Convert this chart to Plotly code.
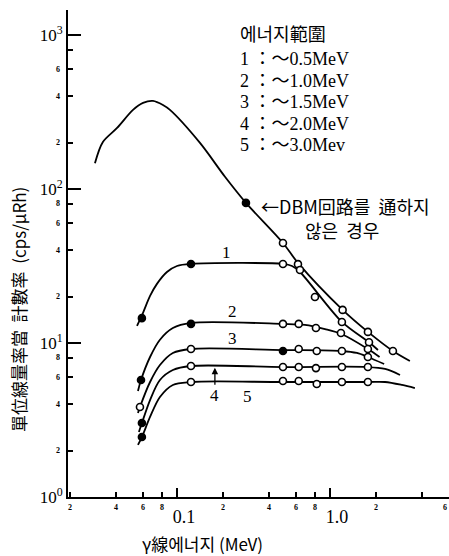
import numpy as np
import plotly.graph_objects as go

# ---------------- data ----------------
# gamma-ray energy (MeV) vs. count rate per unit exposure rate (cps / uR·h)
nodbm_line_E = [0.0291, 0.0328, 0.0406, 0.0516, 0.060, 0.0697, 0.081, 0.090, 0.1414, 0.206, 0.2825, 0.493, 0.618, 1.21, 1.771, 2.58, 3.33]
nodbm_line_R = [147, 202, 249, 326, 362, 373, 351, 326, 199, 120, 81.2, 44.6, 33.1, 16.4, 11.8, 8.87, 7.64]
nodbm_pts_E = [0.2825, 0.493, 0.618, 1.21, 1.771, 2.58]
nodbm_pts_R = [81.2, 44.6, 32.5, 16.4, 11.8, 8.87]

c1_line_E = [0.0548, 0.060, 0.0667, 0.074, 0.086, 0.10, 0.1235, 0.493, 0.565, 0.637, 1.197, 1.80, 2.06]
c1_line_R = [12.9, 15.7, 20.2, 24.2, 28.9, 31.6, 32.6, 32.6, 31.6, 28.9, 13.7, 10.1, 9.0]
c1_pts_E = [0.059, 0.1235, 0.493, 0.637, 0.798, 1.197, 1.80]
c1_pts_R = [14.5, 32.6, 32.6, 29.8, 19.9, 13.7, 10.1]

c2_line_E = [0.0556, 0.0582, 0.0667, 0.0774, 0.094, 0.1235, 0.493, 0.686, 0.928, 1.197, 1.77, 2.11]
c2_line_R = [4.88, 5.75, 8.11, 10.5, 12.5, 13.5, 13.3, 13.1, 12.3, 11.4, 9.14, 8.11]
c2_pts_E = [0.0582, 0.1235, 0.493, 0.625, 0.81, 1.18, 1.77]
c2_pts_R = [5.75, 13.3, 13.3, 13.3, 12.5, 11.6, 9.14]

c3_line_E = [0.0556, 0.0573, 0.0667, 0.0774, 0.094, 0.1235, 0.493, 1.197, 1.5, 1.77, 2.26]
c3_line_R = [3.51, 3.84, 5.58, 7.19, 8.61, 9.14, 9.0, 8.87, 8.61, 8.11, 7.3]
c3_pts_E = [0.0573, 0.1235, 0.493, 0.625, 0.82, 1.197, 1.77]
c3_pts_R = [3.84, 9.14, 8.87, 9.14, 8.87, 8.87, 8.11]

c4_line_E = [0.0564, 0.059, 0.0667, 0.0774, 0.094, 0.1235, 0.493, 1.77, 2.29, 2.87]
c4_line_R = [2.64, 3.02, 4.26, 5.75, 6.68, 7.09, 6.98, 6.98, 6.78, 6.2]
c4_pts_E = [0.059, 0.1235, 0.493, 0.625, 0.81, 1.197, 1.77]
c4_pts_R = [3.02, 7.09, 6.98, 6.98, 6.87, 6.98, 6.98]

c5_line_E = [0.0556, 0.059, 0.0667, 0.0774, 0.094, 0.1235, 0.493, 1.77, 2.29, 2.96, 3.59]
c5_line_R = [2.18, 2.45, 3.31, 4.46, 5.34, 5.58, 5.58, 5.58, 5.58, 5.34, 5.1]
c5_pts_E = [0.059, 0.1235, 0.493, 0.625, 0.82, 1.197, 1.77]
c5_pts_R = [2.45, 5.58, 5.67, 5.67, 5.42, 5.58, 5.58]

curve_names = ["1", "2", "3", "4", "5"]

# axis ticks
x_major_vals = [0.1, 1.0]
x_major_labels = ["0.1", "1.0"]
x_minor_vals = [0.02, 0.04, 0.06, 0.08, 0.2, 0.4, 0.6, 0.8, 2, 4, 6]
x_minor_labels = ["2", "4", "6", "8", "2", "4", "6", "8", "2", "", "6"]
y_major_vals = [1, 10, 100, 1000]
y_major_labels = ["10<sup>0</sup>", "10<sup>1</sup>", "10<sup>2</sup>", "10<sup>3</sup>"]
y_minor_vals = [2, 4, 6, 8, 20, 40, 60, 80, 200, 400, 600, 800]
y_minor_labels = ["2", "4", "6", "8", "2", "4", "6", "8", "2", "4", "6", ""]

legend_title = "에너지範圍"
legend_lines = ["1 ：～0.5MeV", "2 ：～1.0MeV", "3 ：～1.5MeV", "4 ：～2.0MeV", "5 ：～3.0Mev"]
dbm_text_1 = "←DBM回路를  通하지"
dbm_text_2 = "않은  경우"
x_title = "γ線에너지 (MeV)"
y_title = "單位線量率當  計數率  (cps/μRh)"

# ---------------- styling / layout ----------------
W, H = 449, 556
ML, MR, MT, MB = 68, 0, 10, 59
SERIF = "Liberation Serif, Noto Sans CJK KR, serif"
CJK = "Noto Sans CJK KR, sans-serif"


def pxx(x):
    return (x - ML) / (W - ML - MR)


def pxy(y):
    return (H - MB - y) / (H - MT - MB)


fig = go.Figure()


def add_curve(lE, lR, pE, pR, filled):
    fig.add_trace(go.Scatter(
        x=lE, y=lR, mode="lines",
        line=dict(color="black", width=1.8, shape="spline", smoothing=0.9),
        hoverinfo="skip", showlegend=False))
    fig.add_trace(go.Scatter(
        x=pE, y=pR, mode="markers",
        marker=dict(symbol="circle", size=7,
                    color=["black" if i in filled else "white" for i in range(len(pE))],
                    line=dict(color="black", width=1.6)),
        showlegend=False))


add_curve(nodbm_line_E, nodbm_line_R, nodbm_pts_E, nodbm_pts_R, {0})
add_curve(c1_line_E, c1_line_R, c1_pts_E, c1_pts_R, {0, 1})
add_curve(c2_line_E, c2_line_R, c2_pts_E, c2_pts_R, {0, 1})
add_curve(c3_line_E, c3_line_R, c3_pts_E, c3_pts_R, {2})
add_curve(c4_line_E, c4_line_R, c4_pts_E, c4_pts_R, {0})
add_curve(c5_line_E, c5_line_R, c5_pts_E, c5_pts_R, {0})


def ann(x, y, text, font, xanchor="center", yanchor="middle", xref="paper", yref="paper", **kw):
    d = dict(x=x, y=y, xref=xref, yref=yref, text=text, showarrow=False,
             xanchor=xanchor, yanchor=yanchor, font=font)
    d.update(kw)
    return d


SMALL = dict(family=SERIF, size=8, color="black")
annotations = []
# small minor-tick labels
for i, (v, t) in enumerate(zip(x_minor_vals, x_minor_labels)):
    if t:
        last = i == len(x_minor_vals) - 1
        annotations.append(ann(np.log10(v), pxy(507), "<b>" + t + "</b>", SMALL, xref="x",
                               xanchor="right" if last else "center"))
for v, t in zip(y_minor_vals, y_minor_labels):
    if t:
        annotations.append(ann(pxx(58), np.log10(v), "<b>" + t + "</b>", SMALL, yref="y"))
# legend block
annotations.append(ann(pxx(238), pxy(33), legend_title,
                       dict(family=CJK, size=18, color="black"), xanchor="left"))
for i, t in enumerate(legend_lines):
    annotations.append(ann(pxx(238), pxy(59 + i * 21.5), t,
                           dict(family=SERIF, size=18, color="black"), xanchor="left"))
# DBM note
annotations.append(ann(pxx(259), pxy(206), dbm_text_1,
                       dict(family=CJK, size=18, color="black"), xanchor="left"))
annotations.append(ann(pxx(342), pxy(230), dbm_text_2,
                       dict(family=CJK, size=18, color="black")))
# curve labels
label_pos = [(226, 252), (232, 311), (232, 338), None, (247, 396)]
for name, pos in zip(curve_names, label_pos):
    if pos is None:
        continue
    annotations.append(ann(pxx(pos[0]), pxy(pos[1]), name,
                           dict(family=SERIF, size=17, color="black")))
# label 4 with arrow to curve 4
annotations.append(dict(x=np.log10(0.177), y=np.log10(6.9), xref="x", yref="y", text=curve_names[3],
                        showarrow=True, arrowhead=2, arrowsize=1, arrowwidth=1.3, arrowcolor="black",
                        ax=0, ay=28, font=dict(family=SERIF, size=17, color="black")))
# axis titles
annotations.append(ann(pxx(202), pxy(543), x_title, dict(family=CJK, size=17, color="black")))
annotations.append(ann(pxx(18), pxy(310), y_title, dict(family=CJK, size=17, color="black"),
                       textangle=-90))

fig.update_layout(
    width=W, height=H,
    margin=dict(l=ML, r=MR, t=MT, b=MB, pad=0),
    paper_bgcolor="white", plot_bgcolor="white",
    showlegend=False,
    annotations=annotations,
    xaxis=dict(type="log", range=[np.log10(0.0194), np.log10(6.0)],
               showline=True, linecolor="black", linewidth=2, mirror=False,
               showgrid=False, zeroline=False, automargin=False,
               ticks="inside", ticklen=9, tickwidth=1.5, tickcolor="black",
               tickvals=x_major_vals, ticktext=x_major_labels,
               tickfont=dict(family=SERIF, size=18, color="black"),
               ticklabelstandoff=2, ticklabelshift=7,
               minor=dict(tickvals=x_minor_vals, ticks="inside", ticklen=5, tickwidth=1.5,
                          tickcolor="black", showgrid=False)),
    yaxis=dict(type="log", range=[0, 3.162],
               showline=True, linecolor="black", linewidth=2, mirror=False,
               showgrid=False, zeroline=False, automargin=False,
               ticks="inside", ticklen=13, tickwidth=1.5, tickcolor="black",
               tickvals=y_major_vals, ticktext=y_major_labels,
               tickfont=dict(family=SERIF, size=17, color="black"),
               minor=dict(tickvals=y_minor_vals, ticks="inside", ticklen=5, tickwidth=1.5,
                          tickcolor="black", showgrid=False)),
)

fig.write_html("out.html")
